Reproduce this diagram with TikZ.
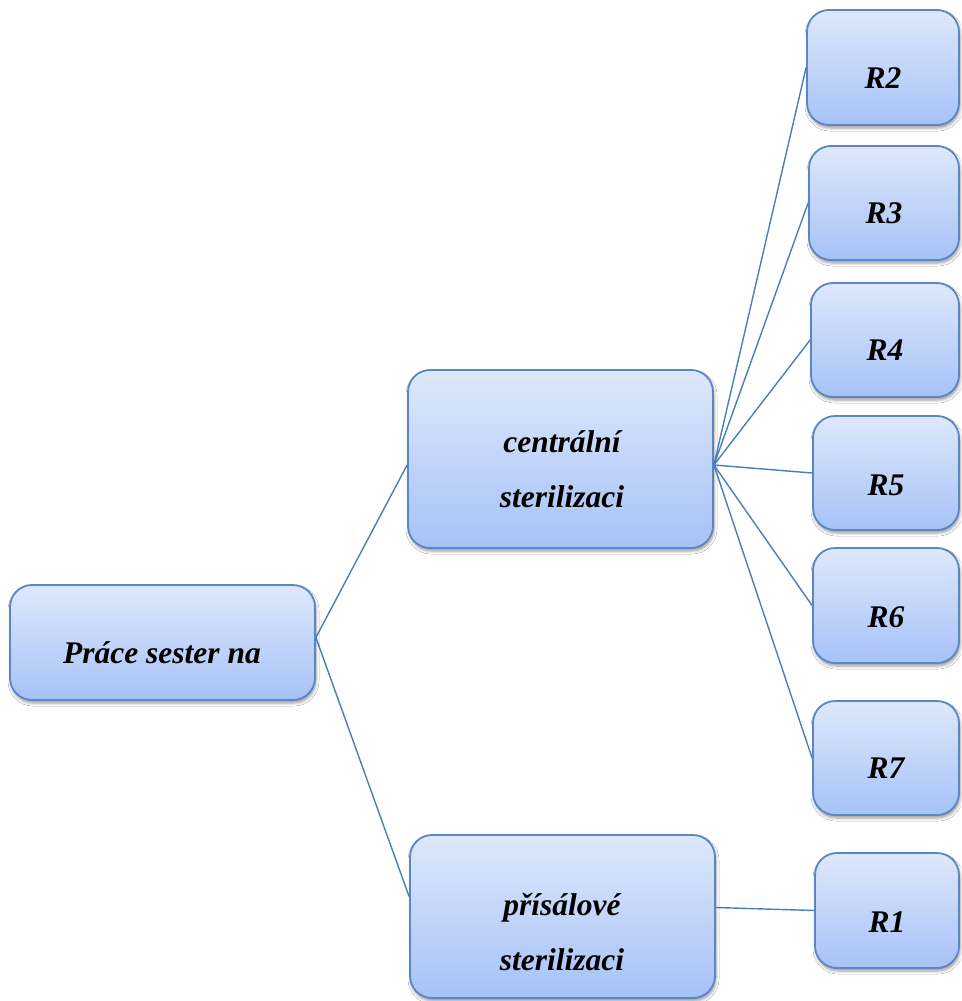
\documentclass[tikz,border=0pt]{standalone}
\usepackage{fontspec}
\setmainfont{Liberation Serif}
\usetikzlibrary{shadows.blur}
\definecolor{boxtop}{HTML}{DEE8FB}
\definecolor{boxbot}{HTML}{A6C2F7}
\definecolor{boxline}{HTML}{5A86C4}
\definecolor{conn}{HTML}{4A7EBB}
\tikzset{
 box/.style={draw=boxline, line width=1.8pt, rounded corners=22pt, top color=boxtop, bottom color=boxbot, inner sep=0pt,
   blur shadow={shadow xshift=1pt, shadow yshift=-3pt, shadow blur radius=3pt, shadow opacity=40}},
 lbl/.style={anchor=base, font=\fontsize{31.5}{31.5}\selectfont\bfseries\itshape, inner sep=0pt},
 link/.style={draw=conn, line width=1.4pt},
}
\newcommand\mybx[5]{\node[box, minimum width=#3pt, minimum height=#4pt] (#5) at ({#1+#3/2},{#2+#4/2}) {};}
\begin{document}
\begin{tikzpicture}[x=1pt,y=-1pt]
\useasboundingbox[fill=white] (0,0) rectangle (961,1001);
\mybx{10}{585}{305}{115}{root}
\mybx{408}{370}{305}{178}{cen}
\mybx{410}{835}{305}{163}{pri}
\mybx{807}{10}{152}{115}{r2}
\mybx{809}{146}{150}{114}{r3}
\mybx{811}{283}{148}{114}{r4}
\mybx{813}{416}{146}{114}{r5}
\mybx{813}{548}{146}{115}{r6}
\mybx{813}{701}{146}{114}{r7}
\mybx{815}{853}{144}{115}{r1}
\draw[link] ([yshift=5pt]root.east) -- ([yshift=-6pt]cen.west);
\draw[link] ([yshift=5pt]root.east) -- ([yshift=20pt]pri.west);
\draw[link] ([yshift=-6pt]cen.east) -- (r2.west);
\draw[link] ([yshift=-6pt]cen.east) -- (r3.west);
\draw[link] ([yshift=-6pt]cen.east) -- (r4.west);
\draw[link] ([yshift=-6pt]cen.east) -- (r5.west);
\draw[link] ([yshift=-6pt]cen.east) -- (r6.west);
\draw[link] ([yshift=-6pt]cen.east) -- (r7.west);
\draw[link] ([yshift=9pt]pri.east) -- (r1.west);
\node[lbl] (troot) at (162,663) {Práce sester na};
\node[lbl] (tcen1) at (562,452) {centrální};
\node[lbl] (tcen2) at (562,507) {sterilizaci};
\node[lbl] (tpri1) at (562,915) {přísálové};
\node[lbl] (tpri2) at (562,970) {sterilizaci};
\node[lbl] (tr2) at (883,88) {R2};
\node[lbl] (tr3) at (884,223) {R3};
\node[lbl] (tr4) at (885,360) {R4};
\node[lbl] (tr5) at (886,495) {R5};
\node[lbl] (tr6) at (886,627) {R6};
\node[lbl] (tr7) at (886,778) {R7};
\node[lbl] (tr1) at (887,932) {R1};
\end{tikzpicture}
\end{document}
